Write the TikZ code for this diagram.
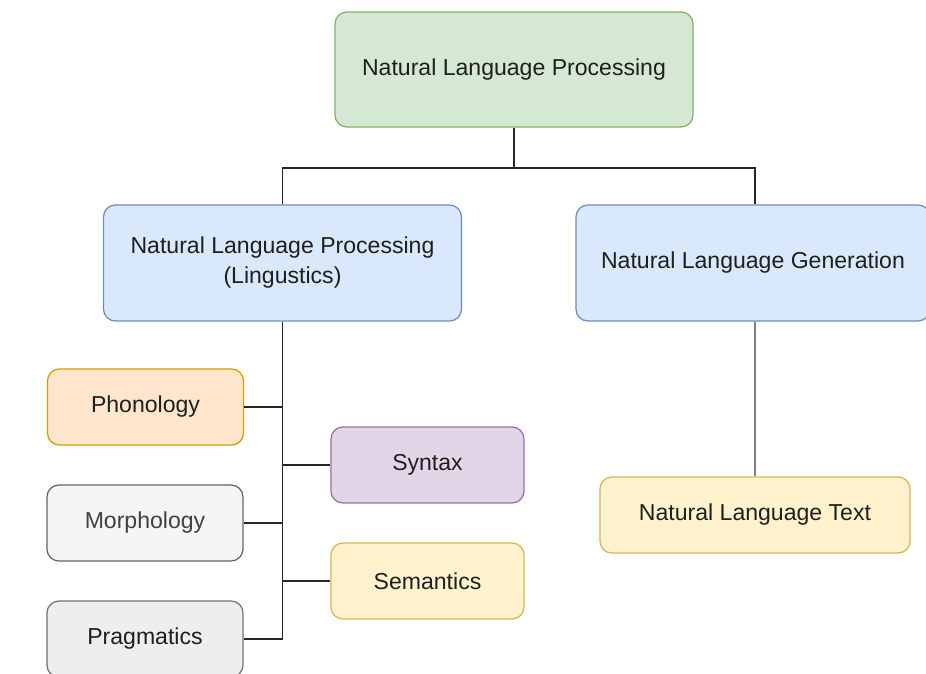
\documentclass[tikz,border=0pt]{standalone}
\usepackage{fontspec}
\setmainfont{Liberation Sans}
\usetikzlibrary{positioning}

\definecolor{greenfill}{HTML}{D5E8D4}\definecolor{greenline}{HTML}{82B366}
\definecolor{bluefill}{HTML}{DAE8FC}\definecolor{blueline}{HTML}{6C8EBF}
\definecolor{orangefill}{HTML}{FFE6CC}\definecolor{orangeline}{HTML}{D79B00}
\definecolor{greyfill}{HTML}{F5F5F5}\definecolor{greyline}{HTML}{666666}
\definecolor{purplefill}{HTML}{E1D5E7}\definecolor{purpleline}{HTML}{9673A6}
\definecolor{yellowfill}{HTML}{FFF2CC}\definecolor{yellowline}{HTML}{D6B656}
\definecolor{darkfill}{HTML}{EEEEEE}\definecolor{darkline}{HTML}{36393D}

\tikzset{
  box/.style={draw, rounded corners=0.3cm, line width=0.9pt, inner sep=0pt,
    align=center, text=black!88, font=\fontsize{16.4}{21.3}\selectfont},
  wide/.style={box, minimum width=8.95cm, minimum height=2.9cm},
  small/.style={box, minimum width=4.9cm, minimum height=1.9cm},
  tree/.style={line width=1.3pt, black!85},
}

\begin{document}
\begin{tikzpicture}[x=0.025cm, y=-0.025cm]
    \useasboundingbox (0,0) rectangle (926,674);
    \clip (0,0) rectangle (926,674);

    \node[wide, fill=greenfill, draw=greenline, minimum height=2.875cm] (nlp) at (514,69.5) {Natural Language Processing};
    \node[wide, fill=bluefill, draw=blueline] (nlpl) at (282.5,263) {Natural Language Processing\\(Lingustics)};
    \node[wide, fill=bluefill, draw=blueline, minimum width=8.85cm] (nlg) at (753,263) {Natural Language Generation};

    \node[small, fill=orangefill, draw=orangeline] (phon) at (145.5,407) {Phonology};
    \node[small, fill=greyfill, draw=greyline, text=black!75] (morph) at (145,523) {Morphology};
    \node[small, fill=darkfill, draw=darkline!70] (prag) at (145,639) {Pragmatics};
    \node[small, fill=purplefill, draw=purpleline, minimum width=4.825cm] (syn) at (427.5,465) {Syntax};
    \node[small, fill=yellowfill, draw=yellowline, minimum width=4.825cm] (sem) at (427.5,581) {Semantics};
    \node[small, fill=yellowfill, draw=yellowline, minimum width=7.75cm] (text) at (755,515) {Natural Language Text};

    \draw[tree] (nlp.south) -- ++(0,40) coordinate (split) -| (nlpl.north);
    \draw[tree] (split) -| (text.north |- nlg.north);

    \draw[tree] (nlpl.south) |- (prag.east);
    \draw[tree] (phon.east) -- (phon.east -| nlpl.south);
    \draw[tree] (morph.east) -- (morph.east -| nlpl.south);
    \draw[tree] (syn.west) -- (syn.west -| nlpl.south);
    \draw[tree] (sem.west) -- (sem.west -| nlpl.south);

    \draw[tree, black!50] (text.north |- nlg.south) -- (text.north);
\end{tikzpicture}
\end{document}
